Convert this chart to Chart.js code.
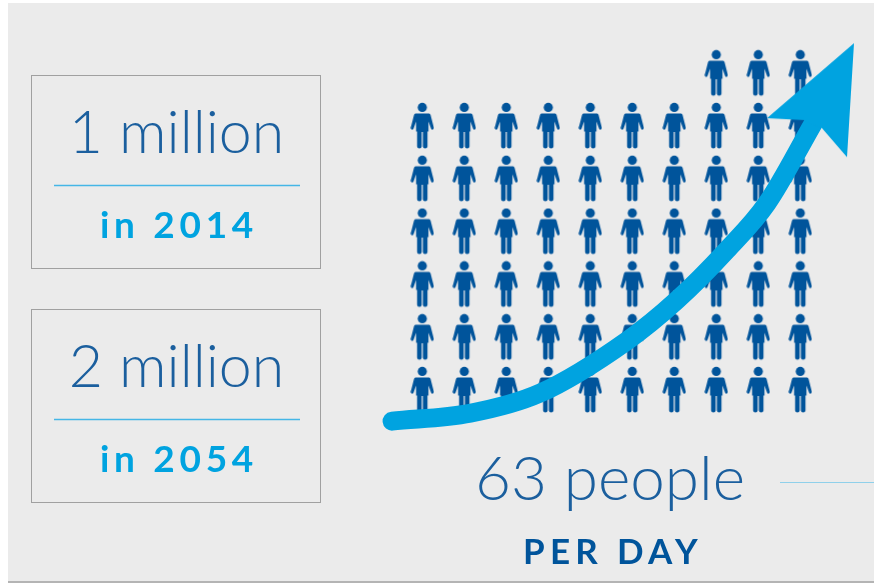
<!DOCTYPE html>
<html>
<head>
<meta charset="utf-8">
<title>63 people per day</title>
<script src="https://cdn.jsdelivr.net/npm/chart.js@4"></script>
<style>
  html, body { margin: 0; padding: 0; background: #fff; }
  canvas { display: block; }
</style>
</head>
<body>
<canvas id="grafico" width="874" height="583"></canvas>
<script>
// Pictogram: how many people in each column
const columns = [1, 2, 3, 4, 5, 6, 7, 8, 9, 10];
const columnCounts = [6, 6, 6, 6, 6, 6, 6, 7, 7, 7];

// Growth arrow curve, in the same column/row units
const arrowX = [0.28, 2.14, 3.80, 5.87, 7.06, 8.25, 9.21, 10.30];
const arrowY = [0.41, 0.56, 0.94, 1.93, 2.70, 3.65, 4.54, 6.04];
const arrowHeadX = [10.23];
const arrowHeadY = [6.49];

// Text
const totals = ['1 million', '2 million'];
const years = ['in 2014', 'in 2054'];
const rateLabel = '63 people';
const rateUnit = 'PER DAY';

const DARK = '#00549b';
const LIGHT = '#00a3e0';
const TEXT_BLUE = '#1b5f9e';

function personIcon() {
    const c = document.createElement('canvas');
    c.width = 24;
    c.height = 48;
    const g = c.getContext('2d');
    g.fillStyle = DARK;
    g.beginPath();
    g.arc(12, 5.4, 4.6, 0, Math.PI * 2);
    g.fill();
    // left half, then the mirrored right half
    [1, -1].forEach(s => {
        const x = v => 12 + s * v;
        g.beginPath();
        g.moveTo(x(0), 11.5);
        g.lineTo(x(6.8), 11.5);
        g.quadraticCurveTo(x(7.9), 11.7, x(8.3), 13);
        g.lineTo(x(11.5), 25.5);
        g.quadraticCurveTo(x(11.7), 27.6, x(10.2), 27.8);
        g.quadraticCurveTo(x(9.1), 27.8, x(8.7), 26.6);
        g.lineTo(x(6.2), 19.5);
        g.lineTo(x(6.2), 29.5);
        g.lineTo(x(5.2), 29.5);
        g.lineTo(x(5.2), 44.6);
        g.quadraticCurveTo(x(5), 46.6, x(2.9), 46.6);
        g.quadraticCurveTo(x(0.8), 46.6, x(0.6), 44.6);
        g.lineTo(x(0.6), 30);
        g.lineTo(x(0), 30);
        g.closePath();
        g.fill();
    });
    return c;
}

function arrowHeadIcon() {
    const c = document.createElement('canvas');
    c.width = 120;
    c.height = 140;
    const g = c.getContext('2d');
    g.fillStyle = LIGHT;
    g.beginPath();
    g.moveTo(104, 13);
    g.lineTo(17, 88);
    g.lineTo(55, 90);
    g.lineTo(72, 98);
    g.lineTo(97, 127);
    g.closePath();
    g.fill();
    return c;
}

const people = [];
columns.forEach((col, i) => {
    for (let row = 1; row <= columnCounts[i]; row++) {
        people.push({ x: col, y: row });
    }
});

// Panel, stat boxes and captions
const panelPlugin = {
    id: 'panel',
    beforeDatasetsDraw(chart) {
        const ctx = chart.ctx;
        ctx.save();
        ctx.fillStyle = '#ebebeb';
        ctx.fillRect(8, 3, 866, 578);
        ctx.fillStyle = '#b4b4b4';
        ctx.fillRect(8, 581, 866, 2);

        ctx.textAlign = 'center';
        ctx.textBaseline = 'alphabetic';
        totals.forEach((label, i) => {
            const top = i === 0 ? 75 : 309;
            ctx.strokeStyle = '#a0a0a0';
            ctx.lineWidth = 1;
            ctx.strokeRect(31.5, top + 0.5, 289, 193);

            ctx.strokeStyle = '#45b6e6';
            ctx.lineWidth = 1.5;
            ctx.beginPath();
            ctx.moveTo(54, top + 110.5);
            ctx.lineTo(300, top + 110.5);
            ctx.stroke();

            ctx.fillStyle = TEXT_BLUE;
            ctx.font = '300 59px Lato';
            ctx.letterSpacing = '0px';
            ctx.fillText(label, 176.5, top + 78);

            ctx.fillStyle = LIGHT;
            ctx.font = '700 37px Lato';
            ctx.letterSpacing = '4.7px';
            ctx.fillText(years[i], 179, top + 163);
        });

        ctx.fillStyle = TEXT_BLUE;
        ctx.font = '300 62px Lato';
        ctx.letterSpacing = '0px';
        ctx.fillText(rateLabel, 610, 500);

        ctx.fillStyle = DARK;
        ctx.font = '700 35px Lato';
        ctx.letterSpacing = '5.3px';
        ctx.fillText(rateUnit, 613, 564);

        ctx.fillStyle = '#8fd0ea';
        ctx.fillRect(780, 482, 94, 1);
        ctx.restore();
    }
};

new Chart(document.getElementById('grafico').getContext('2d'), {
    type: 'scatter',
    data: {
        datasets: [
            {
                label: 'People',
                data: people,
                pointStyle: personIcon(),
                pointRadius: 12,
                clip: false,
                order: 3
            },
            {
                label: 'Growth',
                data: arrowX.map((x, i) => ({ x: x, y: arrowY[i] })),
                showLine: true,
                borderColor: LIGHT,
                borderWidth: 19,
                borderCapStyle: 'round',
                cubicInterpolationMode: 'monotone',
                pointRadius: 0,
                clip: false,
                order: 2
            },
            {
                label: 'Arrow head',
                data: arrowHeadX.map((x, i) => ({ x: x, y: arrowHeadY[i] })),
                pointStyle: arrowHeadIcon(),
                pointRadius: 12,
                clip: false,
                order: 1
            }
        ]
    },
    options: {
        responsive: false,
        animation: false,
        events: [],
        layout: {
            padding: { left: 380.3, right: 31.7, top: 20.4, bottom: 140.2 }
        },
        plugins: {
            legend: { display: false },
            tooltip: { enabled: false }
        },
        scales: {
            x: { type: 'linear', display: false, min: 0, max: 11 },
            y: { type: 'linear', display: false, min: 0, max: 8 }
        }
    },
    plugins: [panelPlugin]
});
</script>
</body>
</html>
